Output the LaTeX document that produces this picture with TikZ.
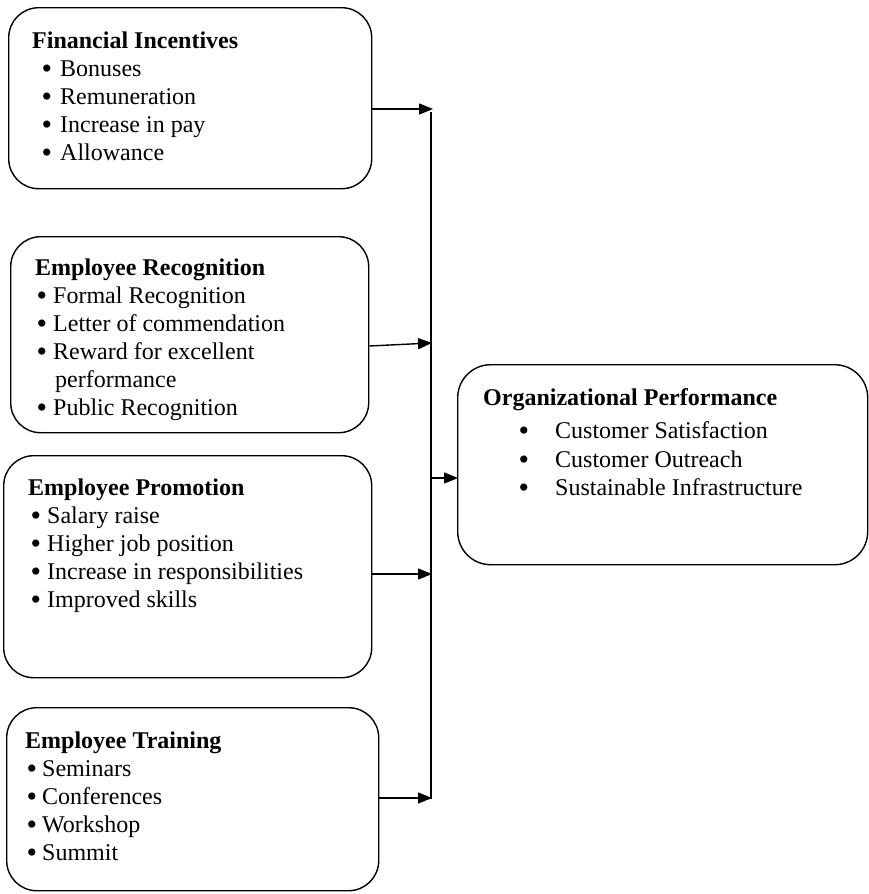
\documentclass[tikz,border=0pt]{standalone}
\usepackage{fontspec}
\setmainfont{Liberation Serif}
\usetikzlibrary{arrows.meta}
\newcommand\bigbul{\smash{\raisebox{-2.6pt}{\scalebox{1.25}{\textbullet}}}}
\newcommand\itm[2]{\llap{\bigbul\hspace{#1pt}}#2}
\begin{document}
\begin{tikzpicture}[x=1pt,y=-1pt,
  box/.style={draw, line width=1.4pt, rounded corners=30pt, anchor=north west, inner sep=0pt},
  txt/.style={anchor=base west, inner sep=0pt, font=\fontsize{24}{27.6}\selectfont},
  hd/.style={txt, font=\fontsize{24}{27.6}\selectfont\bfseries},
  conn/.style={line width=1.4pt},
  arr/.style={line width=1.4pt, -{Triangle[length=14pt,width=11pt]}, shorten >=-1pt}]
\useasboundingbox (0,0) rectangle (868,894);

% boxes
\node[box, minimum width=363pt, minimum height=181pt] (fin) at (8,7) {};
\node[box, minimum width=358pt, minimum height=196pt] (rec) at (10,236) {};
\node[box, minimum width=368pt, minimum height=222pt] (pro) at (3,455) {};
\node[box, minimum width=372pt, minimum height=183pt] (tra) at (6,707) {};
\node[box, minimum width=410pt, minimum height=200pt, rounded corners=33pt] (org) at (457,364) {};

% box 1 text
\node[hd] (finh) at (32,48) {Financial Incentives};
\node[txt] (fin1) at (60,76) {\itm{8}{Bonuses}};
\node[txt] (fin2) at (60,104) {\itm{8}{Remuneration}};
\node[txt] (fin3) at (60,132) {\itm{8}{Increase in pay}};
\node[txt] (fin4) at (60,160) {\itm{8}{Allowance}};

% box 2 text
\node[hd] (rech) at (35,275) {Employee Recognition};
\node[txt] (rec1) at (53,303) {\itm{6}{Formal Recognition}};
\node[txt] (rec2) at (53,331) {\itm{6}{Letter of commendation}};
\node[txt] (rec3) at (53,359) {\itm{6}{Reward for excellent}};
\node[txt] (rec4) at (55,387) {performance};
\node[txt] (rec5) at (53,415) {\itm{6}{Public Recognition}};

% box 3 text
\node[hd] (proh) at (28,495) {Employee Promotion};
\node[txt] (pro1) at (47,523) {\itm{6}{Salary raise}};
\node[txt] (pro2) at (47,551) {\itm{6}{Higher job position}};
\node[txt] (pro3) at (47,579) {\itm{6}{Increase in responsibilities}};
\node[txt] (pro4) at (47,607) {\itm{6}{Improved skills}};

% box 4 text
\node[hd] (trah) at (25,748) {Employee Training};
\node[txt] (tra1) at (42,776) {\itm{5}{Seminars}};
\node[txt] (tra2) at (42,804) {\itm{5}{Conferences}};
\node[txt] (tra3) at (42,832) {\itm{5}{Workshop}};
\node[txt] (tra4) at (42,860) {\itm{5}{Summit}};

% box 5 text
\node[hd] (orgh) at (483,405) {Organizational Performance};
\node[txt] (org1) at (555,438) {\itm{26}{Customer Satisfaction}};
\node[txt] (org2) at (555,467) {\itm{26}{Customer Outreach}};
\node[txt] (org3) at (555,495) {\itm{26}{Sustainable Infrastructure}};

% spine
\coordinate (sTop) at (431,112);
\coordinate (sBot) at (431,798.7);
\draw[conn] (sTop) -- (sBot);

\coordinate (a1) at (432,109);
\coordinate (a2) at (431,343);
\coordinate (a3) at (431,574);
\coordinate (a4) at (431,798);
\coordinate (a5s) at (431,478);

\draw[arr] (fin.east |- a1) -- (a1);
\draw[arr] (rec.east |- 0,346) -- (a2);
\draw[arr] (pro.east |- a3) -- (a3);
\draw[arr] (tra.east |- a4) -- (a4);
\draw[arr] (a5s) -- (org.west |- a5s);
\end{tikzpicture}
\end{document}
